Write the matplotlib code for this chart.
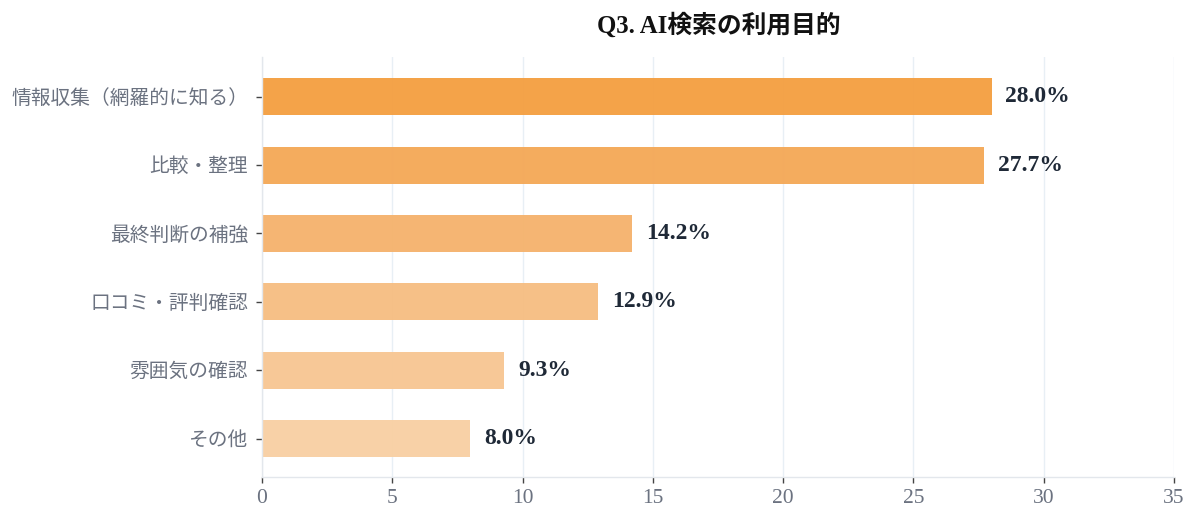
import matplotlib
matplotlib.use("Agg")
import matplotlib.pyplot as plt

plt.rcParams['font.family'] = ['Liberation Serif', 'Noto Sans CJK JP', 'DejaVu Sans']

# Data
CATEGORIES = ["情報収集（網羅的に知る）", "比較・整理", "最終判断の補強",
              "口コミ・評判確認", "雰囲気の確認", "その他"]
VALUES = [28.0, 27.7, 14.2, 12.9, 9.3, 8.0]
X_TICKS = [0, 5, 10, 15, 20, 25, 30, 35]
TITLE = "Q3. AI検索の利用目的"

BAR_COLORS = ["#F4A043", "#F4A959", "#F5B36E", "#F6BE83", "#F7C794", "#F8D0A4"]
TICK_GREY = "#6b7280"
SPINE_GREY = "#e3e7ec"
GRID_COLOR = "#e8eff5"
LABEL_DARK = "#1f2937"

fig = plt.figure(figsize=(12, 5.24), dpi=100, facecolor="white")
ax = fig.add_axes([0.2183, 0.0897, 0.760, 0.8015])

positions = list(range(len(CATEGORIES)))
bars = ax.barh(positions, VALUES, height=0.54, color=BAR_COLORS, alpha=0.97, zorder=2)

ax.set_ylim(len(CATEGORIES) - 1 + 0.56, -0.58)
ax.set_xlim(0, 35)
ax.set_yticks(positions)
ax.set_yticklabels(CATEGORIES)
ax.set_xticks(X_TICKS)
ax.set_xticklabels([str(t) for t in X_TICKS])

ax.tick_params(axis='both', colors="#444444", labelcolor=TICK_GREY, length=4, width=1)
ax.tick_params(axis='y', pad=6, labelsize=14.2)
ax.tick_params(axis='x', pad=5, labelsize=15.5)

ax.grid(axis='x', color=GRID_COLOR, linewidth=1, zorder=0)
ax.set_axisbelow(True)

for side in ["top", "right"]:
    ax.spines[side].set_visible(False)
for side in ["left", "bottom"]:
    ax.spines[side].set_color(SPINE_GREY)
    ax.spines[side].set_linewidth(1)

# value labels
for bar, v in zip(bars, VALUES):
    ax.annotate(f"{v:.1f}%", xy=(bar.get_width(), bar.get_y() + bar.get_height() / 2),
                xytext=(10, 0), textcoords="offset points", va="center", ha="left",
                fontsize=17, fontweight="bold", color=LABEL_DARK)

fig.text(0.599, 0.952, TITLE, ha="center", va="center", fontsize=17.8,
         fontweight="bold", color="#111111")

fig.savefig("out.png", dpi=100, facecolor="white")
